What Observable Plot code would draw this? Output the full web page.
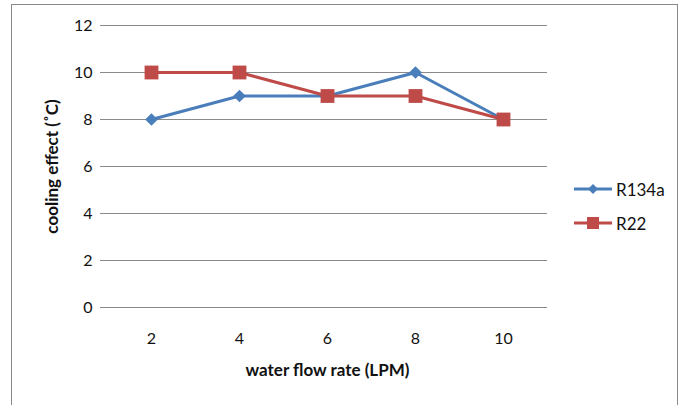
<!DOCTYPE html>
<html><head><meta charset="utf-8">
<script src="https://cdn.jsdelivr.net/npm/d3@7"></script>
<script src="https://cdn.jsdelivr.net/npm/@observablehq/plot@0.6"></script>
<style>
body{margin:0;background:#fff;font-family:Lato,"Open Sans",sans-serif;}
#wrap{position:relative;width:685px;height:405px;overflow:hidden;}
#frame{position:absolute;left:11px;top:4px;width:667px;height:420px;border:1px solid #8a8a8a;box-sizing:border-box;}
#chart{position:absolute;left:0;top:0;}
#legend{position:absolute;left:574px;top:172px;font-size:17px;color:#111;}
#legend div{display:flex;align-items:center;height:34px;}
#legend svg{margin-right:3px;}
</style></head><body>
<div id="wrap"><div id="frame"></div><div id="chart"></div><div id="legend"></div></div>
<script>
const flowRates = [2, 4, 6, 8, 10];
const r134a = [8, 9, 9, 10, 8];
const r22 = [10, 10, 9, 9, 8];
const seriesNames = ["R134a", "R22"];
const yTicks = [0, 2, 4, 6, 8, 10, 12];
const colors = {R134a: "#4a7ebb", R22: "#be4b48"};

const rows = [
  ...flowRates.map((x, i) => ({x, y: r134a[i], s: "R134a"})),
  ...flowRates.map((x, i) => ({x, y: r22[i], s: "R22"}))
];

const plot = Plot.plot({
  width: 685, height: 405,
  marginLeft: 107, marginRight: 138, marginTop: 25, marginBottom: 98,
  style: {fontFamily: "Lato, 'Open Sans', sans-serif", fontSize: "16px", color: "#111", background: "transparent"},
  x: {type: "point", domain: flowRates, padding: 0.5, label: null},
  y: {domain: [0, 12], ticks: yTicks, label: null},
  marks: [
    Plot.ruleY(yTicks, {stroke: "#8a8a8a", strokeWidth: 1, strokeOpacity: 1}),
    Plot.axisY({ticks: yTicks, tickSize: 7, tickPadding: 8, stroke: "#8a8a8a", strokeOpacity: 1, fontSize: 16, fill: "#111", label: null}),
    Plot.axisX({tickSize: 0, tickPadding: 25, fontSize: 16, fill: "#111", label: null}),
    Plot.ruleX([0], {frameAnchor: "left", stroke: "#8a8a8a"}),
    Plot.line(rows, {x: "x", y: "y", z: "s", stroke: d => colors[d.s], strokeWidth: 3}),
    Plot.dot(rows.filter(d => d.s === "R134a"), {x: "x", y: "y", symbol: "diamond2", r: 5.7, fill: colors.R134a, strokeWidth: 0}),
    Plot.dot(rows.filter(d => d.s === "R22"), {x: "x", y: "y", symbol: "square2", r: 8.8, fill: colors.R22, strokeWidth: 0}),
    Plot.text(["water flow rate (LPM)"], {frameAnchor: "bottom", dy: 68, fontWeight: "bold", fontSize: 17, fill: "#111"}),
    Plot.text(["cooling effect (˚C)"], {frameAnchor: "left", textAnchor: "middle", dx: -55, rotate: -90, fontWeight: "bold", fontSize: 17, fill: "#111"})
  ]
});
document.getElementById("chart").appendChild(plot);

const legend = document.getElementById("legend");
seriesNames.forEach(name => {
  const row = document.createElement("div");
  const c = colors[name];
  const marker = name === "R134a"
    ? `<path d="M19 6 L24 11 L19 16 L14 11 Z" fill="${c}"/>`
    : `<rect x="13" y="5" width="12" height="12" fill="${c}"/>`;
  row.innerHTML = `<svg width="39" height="22"><line x1="0" y1="11" x2="38" y2="11" stroke="${c}" stroke-width="3"/>${marker}</svg><span>${name}</span>`;
  legend.appendChild(row);
});
</script>
</body></html>
